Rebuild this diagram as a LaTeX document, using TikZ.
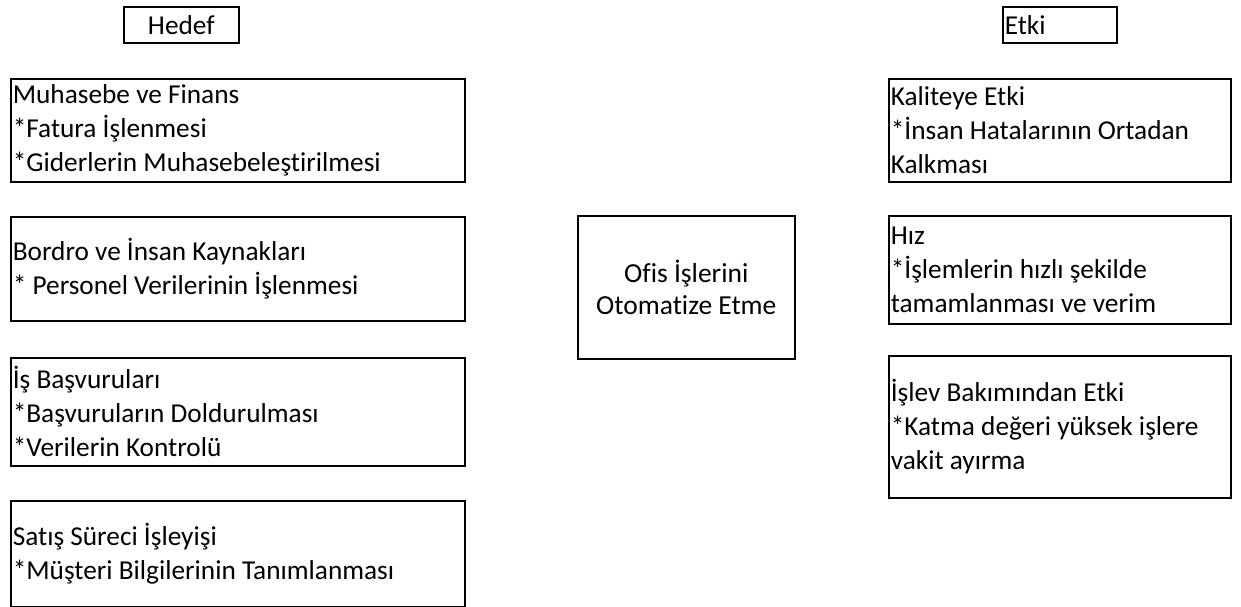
\documentclass[tikz,border=0pt]{standalone}
\usepackage{fontspec}
\setmainfont{Carlito}[Ligatures=NoCommon]
\usepackage{tikz}

\tikzset{kutu/.style={draw, line width=1.6pt, anchor=north west, align=left, inner xsep=2pt, inner ysep=0pt,
                execute at begin node={\spaceskip=0pt\xspaceskip=0pt\relax}}}

\begin{document}
\begin{tikzpicture}[x=1pt,y=-1pt,font=\fontsize{27.3}{34}\selectfont]
                \useasboundingbox (0,0) rectangle (1241,607);

                \node [kutu, align=center, minimum width=115, minimum height=36] (hedef) at (123,6) {Hedef};
                \node [kutu, text width=110, minimum height=36] (etki) at (1002,6) {Etki};

                \node [kutu, text width=450, minimum height=103] (muhasebe) at (10,78) {Muhasebe ve Finans\\{}*Fatura İşlenmesi\\{}*Giderlerin Muhasebeleştirilmesi};
                \node [kutu, text width=450, minimum height=104] (bordro) at (10,216) {Bordro ve İnsan Kaynakları\\{}* Personel Verilerinin İşlenmesi};
                \node [kutu, text width=450, minimum height=108] (basvuru) at (10,357) {İş Başvuruları\\{}*Başvuruların Doldurulması\\{}*Verilerin Kontrolü};
                \node [kutu, text width=450, minimum height=106] (satis) at (10,500) {Satış Süreci İşleyişi\\{}*Müşteri Bilgilerinin Tanımlanması};

                \node [kutu, align=center, minimum width=217, minimum height=143, font=\fontsize{27.5}{32}\selectfont] (ofis) at (577,215) {Ofis İşlerini\\Otomatize Etme};

                \node [kutu, text width=338, minimum height=103] (kalite) at (888,78) {Kaliteye Etki\\{}*İnsan Hatalarının Ortadan\\Kalkması};
                \node [kutu, text width=338, minimum height=108] (hiz) at (888,215) {Hız\\{}*İşlemlerin hızlı şekilde\\tamamlanması ve verim};
                \node [kutu, text width=338, minimum height=142] (islev) at (888,355) {İşlev Bakımından Etki\\{}*Katma değeri yüksek işlere\\vakit ayırma};
            \end{tikzpicture}
\end{document}
